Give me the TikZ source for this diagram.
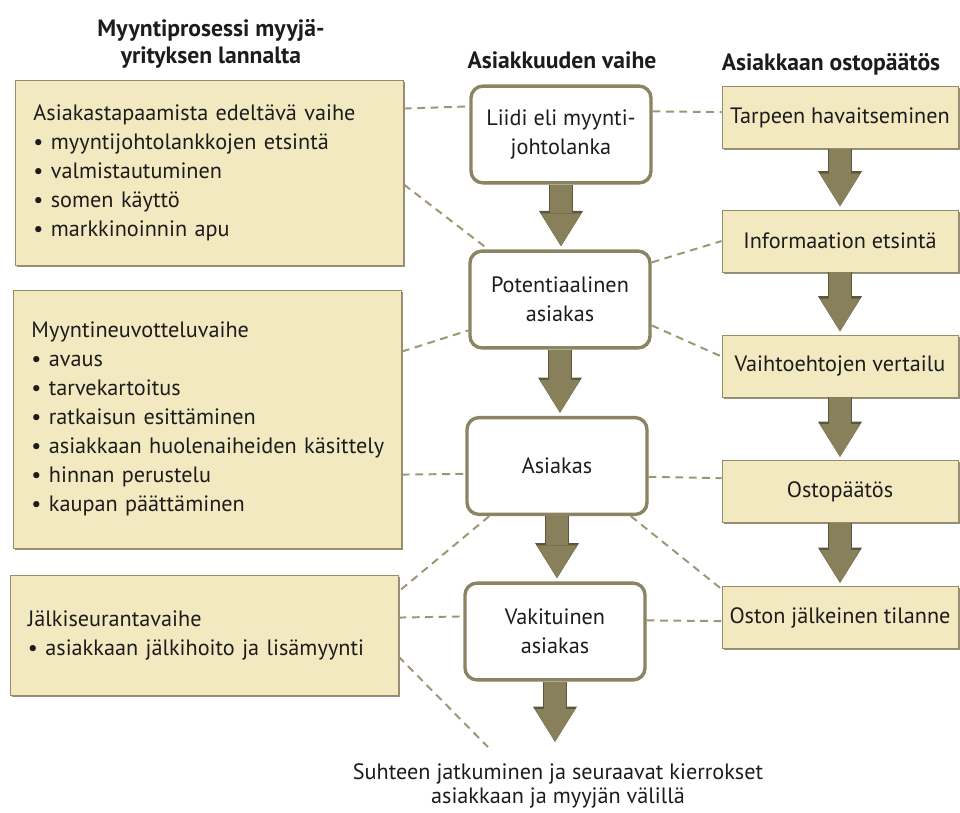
\documentclass[tikz,border=0pt]{standalone}
\usepackage{fontspec}
\setmainfont{PT Sans}
\usetikzlibrary{arrows.meta,calc,shadows}
\definecolor{boxfill}{RGB}{243,233,192}
\definecolor{boxedge}{RGB}{150,141,104}
\definecolor{stageedge}{RGB}{138,132,98}
\definecolor{arrowfill}{RGB}{135,128,90}
\definecolor{arrowedge}{RGB}{92,87,58}
\definecolor{linkcol}{RGB}{158,149,115}
\definecolor{inkcol}{RGB}{28,28,28}
\tikzset{
  sellbox/.style={draw=boxedge,fill=boxfill,line width=0.6pt,inner xsep=0.45cm,text width=8.8cm,align=left,
    drop shadow={shadow xshift=1.3pt,shadow yshift=-1.3pt,fill=boxedge!70!black,opacity=0.7}},
  buybox/.style={draw=boxedge,fill=boxfill,line width=0.6pt,minimum width=5.9cm,minimum height=1.55cm,
    drop shadow={shadow xshift=1.3pt,shadow yshift=-1.3pt,fill=boxedge!70!black,opacity=0.7}},
  stagebox/.style={draw=stageedge,fill=white,line width=2.4pt,rounded corners=0.3cm,minimum width=4.5cm,
    minimum height=2.42cm,align=center,
    drop shadow={shadow xshift=0.8pt,shadow yshift=-0.8pt,fill=arrowedge,opacity=0.6}},
  heading/.style={font=\fontsize{16.8}{19.5}\selectfont\bfseries,align=center},
  link/.style={draw=linkcol,line width=1.4pt,dash pattern=on 5.5pt off 4pt},
  flowarrow/.style={draw=arrowfill,line width=0.55cm,shorten >=0.08cm,
    -{Triangle[width=1cm,length=0.82cm,line width=0pt 0 0]},
    preaction={draw=arrowedge,line width=0.62cm,shorten >=0.08cm,
      -{Triangle[width=1.1cm,length=0.88cm,line width=0pt 0 0]}}}
}
\begin{document}
\begin{tikzpicture}[x=0.025cm,y=-0.025cm,font=\fontsize{15.8}{20.6}\selectfont,text=inkcol]
\useasboundingbox (0,0) rectangle (960,812);
% headings
\node[heading] (t1) at (211,44) {Myyntiprosessi myyjä-\\yrityksen lannalta};
\node[heading] (t2) at (562,60) {Asiakkuuden vaihe};
\node[heading] (t3) at (831,64) {Asiakkaan ostopäätös};
% left column
\node[sellbox,minimum height=4.625cm] (b1) at (209.5,172.5) {Asiakastapaamista edeltävä vaihe\\
  \textbullet\ myyntijohtolankkojen etsintä\\ \textbullet\ valmistautuminen\\
  \textbullet\ somen käyttö\\ \textbullet\ markkinoinnin apu};
\node[sellbox,minimum height=6.45cm] (b2) at (207.5,419) {Myyntineuvotteluvaihe\\
  \textbullet\ avaus\\ \textbullet\ tarvekartoitus\\ \textbullet\ ratkaisun esittäminen\\
  \mbox{\textbullet\ asiakkaan huolenaiheiden käsittely}\\ \textbullet\ hinnan perustelu\\
  \textbullet\ kaupan päättäminen};
\node[sellbox,minimum height=3cm] (b3) at (204,635) {Jälkiseurantavaihe\\
  \textbullet\ asiakkaan jälkihoito ja lisämyynti};
% middle column
\node[stagebox] (lidi) at (561,134.5) {Liidi eli myynti-\\johtolanka};
\node[stagebox] (pot) at (560,299.5) {Potentiaalinen\\asiakas};
\node[stagebox] (asi) at (557,466) {Asiakas};
\node[stagebox] (vak) at (555,631.5) {Vakituinen\\asiakas};
% right column
\node[buybox] (tarp) at (840,117.5) {Tarpeen havaitseminen};
\node[buybox] (info) at (840,241) {Informaation etsintä};
\node[buybox] (vaih) at (840,366) {Vaihtoehtojen vertailu};
\node[buybox] (osto) at (840,491.5) {Ostopäätös};
\node[buybox] (jalk) at (840,617.5) {Oston jälkeinen tilanne};
% bottom
\coordinate (jatko) at (555,745);
\coordinate (kierros) at (488,747);
\node[align=center,font=\fontsize{15.8}{17.5}\selectfont] (seur) at (558,786) {Suhteen jatkuminen ja seuraavat kierrokset\\asiakkaan ja myyjän välillä};
% arrows
\foreach \a/\b in {lidi/pot,pot/asi,asi/vak,tarp/info,info/vaih,vaih/osto,osto/jalk}
  \draw[flowarrow] (\a.south) -- (\a.south |- \b.north);
\draw[flowarrow] (vak.south) -- (jatko);
% dashed links
\draw[link] ($(b1.north east)+(0,29)$) -- ($(lidi.north west)+(0,22)$);
\draw[link] ($(lidi.north east)+(0,27)$) -- ($(tarp.north west)+(0,26)$);
\draw[link] ($(b1.north east)+(0,105)$) -- ($(pot.north west)+(20,0)$);
\draw[link] ($(pot.north east)+(0,13)$) -- (info.west);
\draw[link] ($(pot.north east)+(0,76)$) -- ($(vaih.north west)+(0,22)$);
\draw[link] ($(b2.north east)+(0,62)$) -- ($(pot.north west)+(0,81)$);
\draw[link] ($(b2.north east)+(0,185)$) -- ($(asi.north west)+(0,58)$);
\draw[link] ($(asi.north east)+(0,61)$) -- ($(osto.north west)+(0,18)$);
\draw[link] ($(asi.south west)+(24,0)$) -- ($(b3.north east)+(0,17)$);
\draw[link] ($(asi.south east)+(-18,0)$) -- ($(jalk.north west)+(0,3)$);
\draw[link] ($(b3.north east)+(0,43)$) -- ($(vak.north west)+(0,35)$);
\draw[link] ($(vak.north east)+(0,39)$) -- ($(jalk.north west)+(0,35)$);
\draw[link] ($(b3.north east)+(0,82)$) -- (kierros);
\end{tikzpicture}
\end{document}
